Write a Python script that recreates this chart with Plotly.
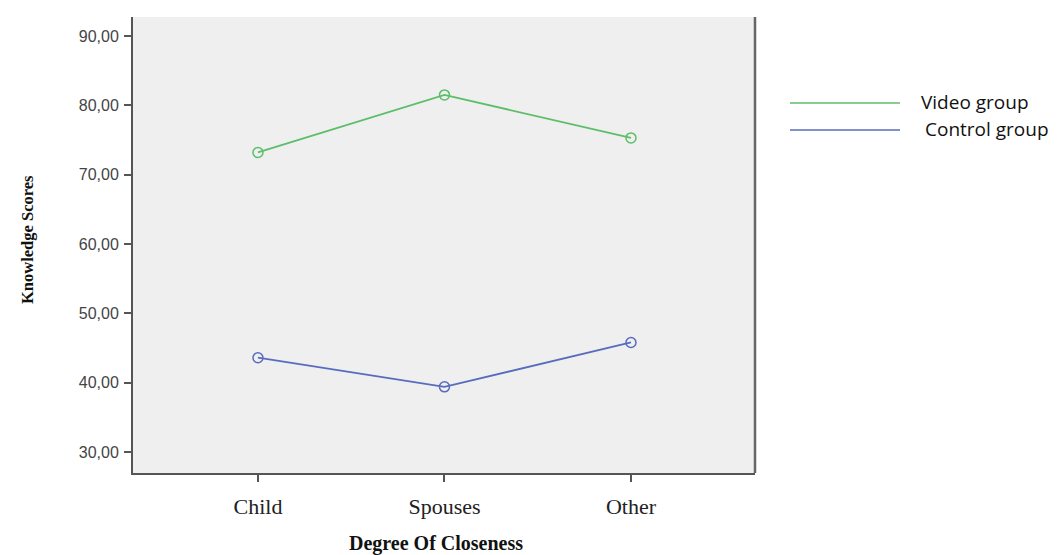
import plotly.graph_objects as go

categories = ["Child", "Spouses", "Other"]
video_group = [73.2, 81.5, 75.3]
control_group = [43.6, 39.4, 45.8]
series_names = ["Video group", "Control group"]
y_ticks = [30, 40, 50, 60, 70, 80, 90]

GREEN = "rgb(92,190,105)"
BLUE = "rgb(88,108,190)"

# the page body adds an 8px offset; the figure is sized so the plot lands where the reference has it
OFF = 8
W, H = 1057 - OFF, 555 - OFF
L, R, T, B = 133 - OFF, 302, 17 - OFF, 82

fig = go.Figure()
for name, vals, col in [(series_names[0], video_group, GREEN), (series_names[1], control_group, BLUE)]:
    fig.add_trace(go.Scatter(
        x=[0, 1, 2], y=vals, mode="lines+markers", name=name,
        line=dict(color=col, width=1.8),
        marker=dict(symbol="circle-open", size=10, color=col, line=dict(width=1.5)),
        showlegend=False,
    ))

fig.update_layout(
    width=W, height=H,
    margin=dict(l=L, r=R, t=T, b=B),
    paper_bgcolor="white", plot_bgcolor="#efefef",
    separators=",.",
    font=dict(family="Liberation Sans, Arial", color="#333"),
)
fig.update_xaxes(
    range=[-0.67, 2.665], tickvals=[0, 1, 2], ticktext=categories,
    showgrid=False, zeroline=False,
    showline=True, linecolor="#555", linewidth=2, mirror=False,
    ticks="outside", ticklen=7, tickcolor="#555", tickwidth=1.5,
    tickfont=dict(family="Liberation Serif, Times New Roman", size=22, color="#222"),
    ticklabelstandoff=6,
)
fig.update_yaxes(
    range=[26.97, 92.74], tickvals=y_ticks, tickformat=".2f",
    showgrid=False, zeroline=False,
    showline=True, linecolor="#555", linewidth=2,
    ticks="outside", ticklen=7, tickcolor="#555", tickwidth=1.5,
    tickfont=dict(family="Liberation Sans, Arial", size=16, color="#444"),
    ticklabelstandoff=2,
)
# right border of the plot frame
fig.add_shape(type="line", xref="paper", yref="paper", x0=1, x1=1, y0=0, y1=1,
              line=dict(color="#666", width=2.5))

px_w = W - L - R
px_h = H - T - B
def px_to_paper_x(px):
    return (px - OFF - L) / px_w
def px_to_paper_y(py):
    return (H - B - (py - OFF)) / px_h

# axis titles
fig.add_annotation(xref="paper", yref="paper", x=px_to_paper_x(436), y=px_to_paper_y(543),
                   text="<b>Degree Of Closeness</b>", showarrow=False,
                   font=dict(family="Liberation Serif, Times New Roman", size=20, color="#111"),
                   xanchor="center", yanchor="middle")
fig.add_annotation(xref="paper", yref="paper", x=px_to_paper_x(27), y=px_to_paper_y(240),
                   text="<b>Knowledge Scores</b>", showarrow=False, textangle=-90,
                   font=dict(family="Liberation Serif, Times New Roman", size=16.5, color="#111"),
                   xanchor="center", yanchor="middle")

# legend drawn manually
for name, col, ly, tx in [(series_names[0], GREEN, 103, 919), (series_names[1], BLUE, 130, 923)]:
    fig.add_shape(type="line", xref="paper", yref="paper",
                  x0=px_to_paper_x(790), x1=px_to_paper_x(900),
                  y0=px_to_paper_y(ly), y1=px_to_paper_y(ly),
                  line=dict(color=col, width=1.4))
    fig.add_annotation(xref="paper", yref="paper", x=px_to_paper_x(tx), y=px_to_paper_y(ly - 1),
                       text=name, showarrow=False, xanchor="left", yanchor="middle",
                       font=dict(family="Open Sans, Liberation Sans", size=19, color="#111"))

fig.write_html("out.html")
